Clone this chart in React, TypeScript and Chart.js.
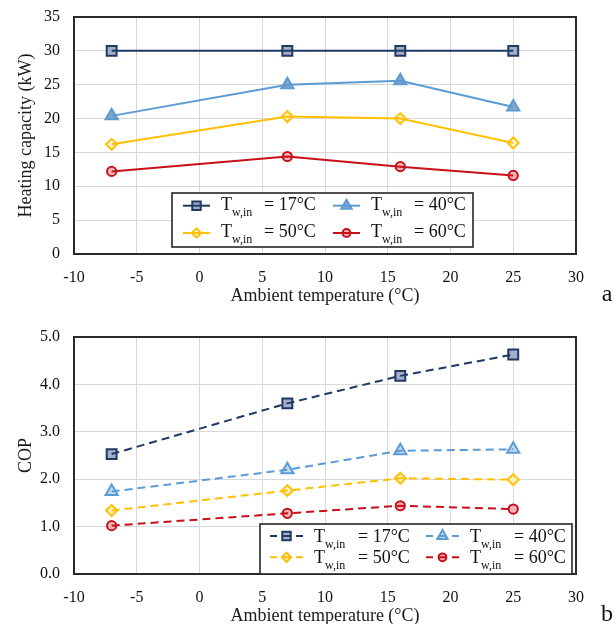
import React, { useEffect, useRef } from "react";
import { Chart, registerables } from "chart.js";

Chart.register(...registerables);

// ---------------- data ----------------
const ambientTemps = [-7, 7, 16, 25];
const waterTempLabels = ["17°C", "40°C", "50°C", "60°C"];

const capacity17 = [30, 30, 30, 30];
const capacity40 = [20.4, 25.0, 25.6, 21.7];
const capacity50 = [16.2, 20.3, 20.0, 16.4];
const capacity60 = [12.2, 14.4, 12.9, 11.6];

const cop17 = [2.53, 3.6, 4.18, 4.63];
const cop40 = [1.74, 2.2, 2.6, 2.63];
const cop50 = [1.34, 1.76, 2.02, 1.99];
const cop60 = [1.02, 1.28, 1.44, 1.37];

const xMin = -10;
const xMax = 30;
const xStep = 5;
const capacityMax = 35;
const capacityStep = 5;
const copMax = 5;
const copStep = 1;

// ---------------- styles ----------------
const FONT = '"Liberation Serif", "Times New Roman", serif';

type SeriesStyle = { color: string; pointStyle: string; radius: number };
const seriesStyles: SeriesStyle[] = [
  { color: "#1F3864", pointStyle: "rect", radius: 7 },
  { color: "#5B9BD5", pointStyle: "triangle", radius: 7 },
  { color: "#FFC000", pointStyle: "rectRot", radius: 5.5 },
  { color: "#C8101A", pointStyle: "circle", radius: 4.6 },
];
const topFills = ["#A3AEC8", "#8FA3C6", "#FFF7DF", "#F2B6BA"];
const bottomFills = ["#A3AEC8", "#C4DBF0", "#FFF3CF", "#F2B6BA"];

function markerPath(ctx: CanvasRenderingContext2D, style: string, x: number, y: number, r: number) {
  ctx.beginPath();
  if (style === "rect") {
    const s = Math.SQRT1_2 * r;
    ctx.rect(x - s, y - s, 2 * s, 2 * s);
  } else if (style === "triangle") {
    let rad = 0;
    ctx.moveTo(x + Math.sin(rad) * r, y - Math.cos(rad) * r);
    rad += (2 * Math.PI) / 3;
    ctx.lineTo(x + Math.sin(rad) * r, y - Math.cos(rad) * r);
    rad += (2 * Math.PI) / 3;
    ctx.lineTo(x + Math.sin(rad) * r, y - Math.cos(rad) * r);
    ctx.closePath();
  } else if (style === "rectRot") {
    ctx.moveTo(x - r, y);
    ctx.lineTo(x, y - r);
    ctx.lineTo(x + r, y);
    ctx.lineTo(x, y + r);
    ctx.closePath();
  } else {
    ctx.arc(x, y, r, 0, Math.PI * 2);
  }
}

type LegendSpec = {
  box: [number, number, number, number];
  rowsY: number[];
  rowsBaseline: number[];
  colsX: number[];
  segLen: number;
  tOffset: number;
  eqOffset: number;
  dashed: boolean;
};

function drawLegend(ctx: CanvasRenderingContext2D, spec: LegendSpec, fills: string[]) {
  const [x0, y0, x1, y1] = spec.box;
  ctx.save();
  ctx.fillStyle = "#ffffff";
  ctx.fillRect(x0, y0, x1 - x0, y1 - y0);
  ctx.strokeStyle = "#262626";
  ctx.lineWidth = 1.6;
  ctx.strokeRect(x0, y0, x1 - x0, y1 - y0);
  for (let i = 0; i < 4; i++) {
    const row = Math.floor(i / 2);
    const col = i % 2;
    const st = seriesStyles[i];
    const lx = spec.colsX[col];
    const ly = spec.rowsY[row];
    const mid = lx + spec.segLen / 2;
    ctx.setLineDash([]);
    markerPath(ctx, st.pointStyle, mid, ly, st.radius * 0.85);
    ctx.fillStyle = fills[i];
    ctx.fill();
    ctx.strokeStyle = st.color;
    ctx.lineWidth = 2;
    ctx.stroke();
    ctx.beginPath();
    if (spec.dashed) {
      ctx.moveTo(lx, ly);
      ctx.lineTo(lx + 7, ly);
      ctx.moveTo(mid - 4, ly);
      ctx.lineTo(mid + 4, ly);
      ctx.moveTo(lx + spec.segLen - 7, ly);
      ctx.lineTo(lx + spec.segLen, ly);
    } else {
      ctx.moveTo(lx, ly);
      ctx.lineTo(lx + spec.segLen, ly);
    }
    ctx.strokeStyle = st.color;
    ctx.lineWidth = 2;
    ctx.stroke();
    const bl = spec.rowsBaseline[row];
    const tx = lx + spec.tOffset;
    ctx.fillStyle = "#111";
    ctx.textBaseline = "alphabetic";
    ctx.textAlign = "left";
    ctx.font = `18px ${FONT}`;
    ctx.fillText("T", tx, bl);
    ctx.font = `12px ${FONT}`;
    ctx.fillText("w,in", tx + 11, bl + 6);
    ctx.font = `18px ${FONT}`;
    ctx.fillText("= " + waterTempLabels[i], lx + spec.eqOffset, bl);
  }
  ctx.restore();
}

const framePlugin = {
  id: "frameAndLegend",
  beforeDatasetsDraw(chart: any) {
    const { ctx, chartArea } = chart;
    ctx.save();
    ctx.strokeStyle = "#2a2a2a";
    ctx.lineWidth = 2;
    ctx.strokeRect(chartArea.left, chartArea.top, chartArea.right - chartArea.left, chartArea.bottom - chartArea.top);
    ctx.restore();
  },
  afterDatasetsDraw(chart: any, _args: any, opts: any) {
    const { ctx } = chart;
    drawLegend(ctx, opts.legend, opts.fills);
    ctx.save();
    ctx.fillStyle = "#111";
    ctx.font = `24px ${FONT}`;
    ctx.textAlign = "center";
    ctx.textBaseline = "alphabetic";
    ctx.fillText(opts.letter, 607, 301);
    ctx.restore();
  },
};

type PanelProps = {
  top: number;
  yTitle: string;
  yMax: number;
  yStep: number;
  yDecimals: number;
  series: number[][];
  dashed: boolean;
  fills: string[];
  legend: LegendSpec;
  letter: string;
};

function ChartPanel(props: PanelProps) {
  const ref = useRef<HTMLCanvasElement>(null);
  useEffect(() => {
    if (!ref.current) return;
    const datasets: any[] = [];
    props.series.forEach((values, i) => {
      const st = seriesStyles[i];
      const pts = ambientTemps.map((x, j) => ({ x, y: values[j] }));
      datasets.push({
        label: waterTempLabels[i] + " markers",
        data: pts,
        showLine: false,
        pointStyle: st.pointStyle,
        pointRadius: st.radius,
        pointBackgroundColor: props.fills[i],
        pointBorderColor: st.color,
        pointBorderWidth: 2,
        order: 10 + i,
      });
      datasets.push({
        label: waterTempLabels[i],
        data: pts,
        showLine: true,
        borderColor: st.color,
        borderWidth: 2,
        borderDash: props.dashed ? [8, 5] : [],
        pointRadius: 0,
        fill: false,
        order: i,
      });
    });
    const chart = new Chart(ref.current, {
      type: "scatter",
      data: { datasets },
      options: {
        responsive: false,
        maintainAspectRatio: false,
        animation: false,
        layout: { padding: { top: 17, right: 38, left: 0, bottom: 0 } },
        plugins: {
          legend: { display: false },
          tooltip: { enabled: false },
          frameAndLegend: { legend: props.legend, fills: props.fills, letter: props.letter },
        } as any,
        scales: {
          x: {
            type: "linear",
            min: xMin,
            max: xMax,
            ticks: { stepSize: xStep, padding: 14, color: "#111", font: { family: FONT, size: 16 } },
            grid: { color: "#d9d9d9", drawTicks: false, lineWidth: 1 },
            border: { display: false },
            title: {
              display: true,
              text: "Ambient temperature (°C)",
              color: "#1a1a1a",
              font: { family: FONT, size: 18 },
              padding: { top: 0, bottom: 13 },
            },
            afterFit: (s: any) => {
              s.height = 66;
              s.paddingLeft = 0;
              s.paddingRight = 0;
            },
          },
          y: {
            type: "linear",
            min: 0,
            max: props.yMax,
            ticks: {
              stepSize: props.yStep,
              padding: 14,
              color: "#111",
              font: { family: FONT, size: 16 },
              callback: (v: any) => Number(v).toFixed(props.yDecimals),
            },
            grid: { color: "#d9d9d9", drawTicks: false, lineWidth: 1 },
            border: { display: false },
            title: {
              display: true,
              text: props.yTitle,
              color: "#1a1a1a",
              font: { family: FONT, size: 18 },
              padding: { top: 15, bottom: 0 },
            },
            afterFit: (s: any) => {
              s.width = 74;
              s.paddingTop = 0;
              s.paddingBottom = 0;
            },
          },
        },
      },
      plugins: [framePlugin as any],
    });
    return () => chart.destroy();
  }, []);
  return (
    <canvas
      ref={ref}
      width={614}
      height={320}
      style={{ position: "absolute", left: 0, top: props.top, width: 614, height: 320, display: "block" }}
    />
  );
}

const topLegend: LegendSpec = {
  box: [172, 193, 473, 247],
  rowsY: [205.7, 233],
  rowsBaseline: [209.5, 236.7],
  colsX: [183, 333],
  segLen: 27,
  tOffset: 38,
  eqOffset: 81,
  dashed: false,
};

const bottomLegend: LegendSpec = {
  box: [260, 204, 572, 254],
  rowsY: [216, 237.3],
  rowsBaseline: [221.7, 243.3],
  colsX: [270, 426],
  segLen: 33,
  tOffset: 44,
  eqOffset: 88,
  dashed: true,
};

export default function App() {
  return (
    <div
      style={{
        position: "absolute",
        left: 0,
        top: 0,
        width: 614,
        height: 624,
        overflow: "hidden",
        background: "#ffffff",
      }}
    >
      <ChartPanel
        top={0}
        yTitle="Heating capacity (kW)"
        yMax={capacityMax}
        yStep={capacityStep}
        yDecimals={0}
        series={[capacity17, capacity40, capacity50, capacity60]}
        dashed={false}
        fills={topFills}
        legend={topLegend}
        letter="a"
      />
      <ChartPanel
        top={320}
        yTitle="COP"
        yMax={copMax}
        yStep={copStep}
        yDecimals={1}
        series={[cop17, cop40, cop50, cop60]}
        dashed={true}
        fills={bottomFills}
        legend={bottomLegend}
        letter="b"
      />
    </div>
  );
}
